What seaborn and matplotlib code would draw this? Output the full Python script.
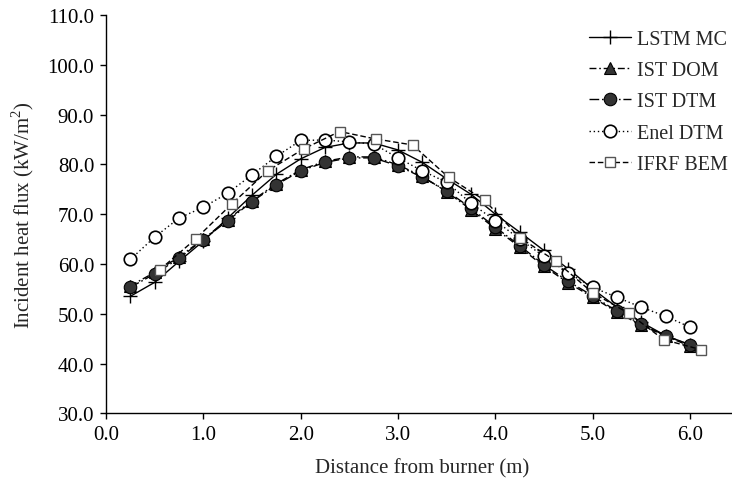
import numpy as np
import pandas as pd
import matplotlib
matplotlib.use('Agg')
import matplotlib.pyplot as plt
import seaborn as sns

# Values
dist = [0.25, 0.5, 0.75, 1.0, 1.25, 1.5, 1.75, 2.0, 2.25, 2.5, 2.75, 3.0,
        3.25, 3.5, 3.75, 4.0, 4.25, 4.5, 4.75, 5.0, 5.25, 5.5, 5.75, 6.0]
lstm_mc = [53.5, 56.3, 60.5, 64.6, 69.2, 73.8, 78.0, 81.1, 83.4, 84.3, 84.3, 82.9,
           80.4, 77.1, 74.0, 70.0, 66.4, 62.7, 59.0, 55.0, 51.3, 48.3, 45.6, 43.8]
ist_dom = [55.6, 58.3, 61.4, 65.0, 68.9, 72.7, 76.1, 78.9, 80.6, 81.5, 81.5, 79.9,
           77.6, 74.5, 70.9, 67.1, 63.4, 59.5, 56.2, 53.3, 50.3, 47.7, 45.5, 43.5]
ist_dtm = [55.3, 58.0, 61.1, 64.9, 68.7, 72.5, 75.9, 78.7, 80.4, 81.3, 81.3, 79.7,
           77.4, 74.7, 71.2, 67.4, 63.7, 59.8, 56.5, 53.6, 50.5, 47.9, 45.6, 43.7]
enel_dtm = [60.9, 65.4, 69.2, 71.4, 74.2, 77.9, 81.6, 84.8, 84.9, 84.5, 84.1, 81.3,
            78.7, 76.4, 72.2, 68.7, 65.0, 61.5, 58.2, 55.3, 53.3, 51.3, 49.5, 47.3]
ifrf_dist = [0.55, 0.92, 1.29, 1.66, 2.03, 2.40, 2.77, 3.15, 3.52, 3.89, 4.25,
             4.62, 5.0, 5.37, 5.73, 6.11]
ifrf_bem = [58.8, 65.0, 72.0, 78.7, 83.1, 86.6, 85.1, 83.9, 77.4, 72.8, 65.3,
            60.6, 54.2, 50.1, 44.8, 42.8]

sns.set_style('ticks')
plt.rcParams['font.family'] = ['Liberation Serif', 'DejaVu Serif']
plt.rcParams['mathtext.fontset'] = 'custom'
plt.rcParams['mathtext.rm'] = 'Liberation Serif'
plt.rcParams['font.size'] = 15

fig = plt.figure(figsize=(7.32, 4.81), dpi=100)
ax = fig.add_axes([106 / 732, (481 - 414.3) / 481, 632.6 / 732, 398.3 / 481])

# LSTM MC
sns.lineplot(x=dist, y=lstm_mc, ax=ax, sort=False, color='black', linewidth=1.0,
             linestyle='-', marker='+', markersize=10, markeredgewidth=1.0,
             markeredgecolor='black', label='LSTM MC')
# IST DOM
sns.lineplot(x=dist, y=ist_dom, ax=ax, sort=False, color='black', linewidth=1.0,
             linestyle=(0, (5, 2, 1.2, 2)), marker='^', markersize=8,
             markerfacecolor='#333333', markeredgecolor='black', markeredgewidth=0.8,
             label='IST DOM')
# IST DTM
sns.lineplot(x=dist, y=ist_dtm, ax=ax, sort=False, color='black', linewidth=1.0,
             linestyle=(0, (7, 2, 1.2, 2)), marker='o', markersize=9,
             markerfacecolor='#333333', markeredgecolor='black', markeredgewidth=0.8,
             label='IST DTM')
# Enel DTM
sns.lineplot(x=dist, y=enel_dtm, ax=ax, sort=False, color='black', linewidth=1.0,
             linestyle=(0, (1, 2)), marker='o', markersize=9,
             markerfacecolor='white', markeredgecolor='black', markeredgewidth=1.2,
             label='Enel DTM')
# IFRF BEM
sns.lineplot(x=ifrf_dist, y=ifrf_bem, ax=ax, sort=False, color='black', linewidth=1.0,
             linestyle=(0, (4, 2)), marker='s', markersize=7.5,
             markerfacecolor='white', markeredgecolor='#555555', markeredgewidth=1.0,
             label='IFRF BEM')

ax.set_xlim(0, 6.5)
ax.set_ylim(30, 110)
ax.set_xticks(np.arange(0, 6.01, 1.0))
ax.set_yticks(np.arange(30, 110.1, 10))
ax.xaxis.set_major_formatter(matplotlib.ticker.FormatStrFormatter('%.1f'))
ax.yaxis.set_major_formatter(matplotlib.ticker.FormatStrFormatter('%.1f'))
ax.tick_params(direction='out', length=4.5, width=1.0, colors='black', labelsize=15, pad=4)
for side in ['top', 'right']:
    ax.spines[side].set_visible(False)
for side in ['left', 'bottom']:
    ax.spines[side].set_linewidth(1.0)
    ax.spines[side].set_color('black')

ax.set_xlabel('Distance from burner (m)', fontsize=15, labelpad=10)
ax.set_ylabel('Incident heat flux (kW/m$^2$)', fontsize=15, labelpad=8)

leg = ax.legend(loc='upper right', bbox_to_anchor=(728 / 732, 1 - 31 / 481),
                bbox_transform=fig.transFigure, frameon=False, fontsize=14.5,
                handlelength=2.1, handletextpad=0.3, labelspacing=0.6,
                borderpad=0, borderaxespad=0)

fig.savefig('out.png', dpi=100)
